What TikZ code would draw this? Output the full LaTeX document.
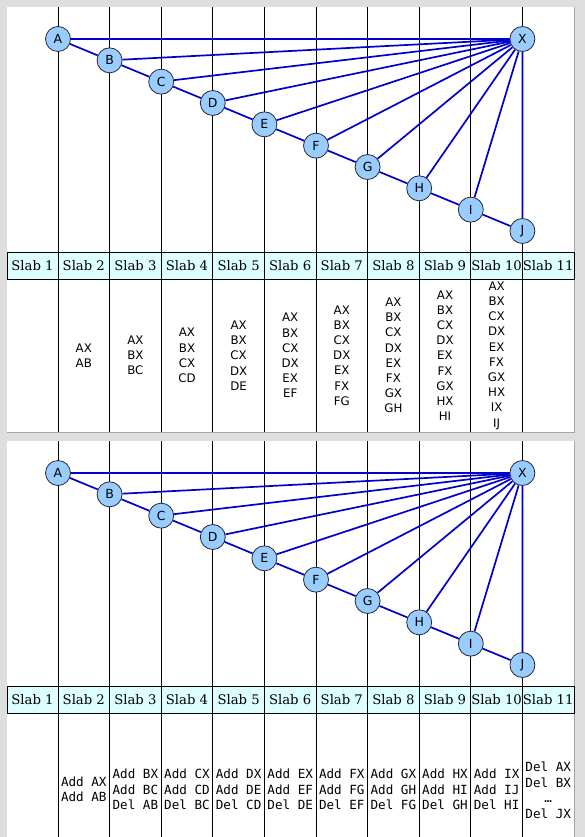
\documentclass[tikz,border=0pt]{standalone}
\usepackage{fontspec}
\newfontfamily\hdrf{DejaVu Serif}
\newfontfamily\sansf{DejaVu Sans}
\newfontfamily\monof{DejaVu Sans Mono}
\definecolor{pagegray}{RGB}{222,222,222}
\definecolor{shadowgray}{RGB}{165,165,165}
\definecolor{hdrcyan}{RGB}{221,255,255}
\definecolor{nodeblue}{RGB}{153,204,255}
\definecolor{nodeline}{RGB}{40,40,50}
\definecolor{edgeblue}{RGB}{0,0,204}
\tikzset{
 vnode/.style={circle,draw=nodeline,line width=0.8pt,fill=nodeblue,minimum size=25pt,inner sep=0pt,font=\sansf\fontsize{12.5}{12.5}\selectfont},
 blueline/.style={draw=edgeblue,line width=1.7pt},
 colline/.style={draw=black,line width=0.7pt},
 hdrtext/.style={font=\hdrf\fontsize{13.2}{13.2}\selectfont,inner sep=0pt},
 toptext/.style={font=\sansf\fontsize{11.8}{15.2}\selectfont,align=center,inner sep=0pt},
 bottext/.style={font=\monof\fontsize{12.6}{15.5}\selectfont,align=center,inner sep=0pt},
}
\newcommand\drawslabpage[2]{%
\begin{scope}[shift={(0,#2)}]
 \fill[white] (7,7) rectangle (574,432);
 \draw[shadowgray,line width=0.8pt] (574.4,7) -- (574.4,432.4) -- (7,432.4);
 \fill[hdrcyan] (7,252) rectangle (574,279);
 \foreach \i in {0,...,9} \draw[colline] ({58+51.6*\i},7) -- ({58+51.6*\i},432);
 \draw[colline] (7,252) rectangle (574,279);
 \node[hdrtext] (#1h1) at (32.5,265.5) {Slab 1};
 \foreach \k in {2,...,11} \node[hdrtext] (#1h\k) at ({32.2+51.6*(\k-1)},265.5) {Slab \k};
 \foreach \l [count=\i from 0] in {A,B,C,D,E,F,G,H,I,J}
   \node[vnode] (#1\l) at ({58+51.6*\i},{39+21.333*\i}) {\l};
 \node[vnode] (#1X) at (522.4,39) {X};
 \foreach \a/\b in {A/B,B/C,C/D,D/E,E/F,F/G,G/H,H/I,I/J}
   \draw[blueline] (#1\a) -- (#1\b);
 \foreach \a in {A,B,C,D,E,F,G,H,I,J}
   \draw[blueline] (#1X) -- (#1\a);
\end{scope}}
\newcommand\cx[1]{{32.2+51.6*(#1-1)}}
\begin{document}
\begin{tikzpicture}[x=1pt,y=-1pt]
\useasboundingbox (0,0) rectangle (585,837);
\clip (0,0) rectangle (585,837);
\fill[pagegray] (0,0) rectangle (585,837);
\drawslabpage{p}{0}
\drawslabpage{q}{434}
% top page contents
\node[toptext] (t2) at (\cx{2},355.5) {AX\\AB};
\node[toptext] (t3) at (\cx{3},355.5) {AX\\BX\\BC};
\node[toptext] (t4) at (\cx{4},355.5) {AX\\BX\\CX\\CD};
\node[toptext] (t5) at (\cx{5},355.5) {AX\\BX\\CX\\DX\\DE};
\node[toptext] (t6) at (\cx{6},355.5) {AX\\BX\\CX\\DX\\EX\\EF};
\node[toptext] (t7) at (\cx{7},355.5) {AX\\BX\\CX\\DX\\EX\\FX\\FG};
\node[toptext] (t8) at (\cx{8},355.5) {AX\\BX\\CX\\DX\\EX\\FX\\GX\\GH};
\node[toptext] (t9) at (\cx{9},355.5) {AX\\BX\\CX\\DX\\EX\\FX\\GX\\HX\\HI};
\node[toptext] (t10) at (\cx{10},355.5) {AX\\BX\\CX\\DX\\EX\\FX\\GX\\HX\\IX\\IJ};
% bottom page contents
\node[bottext] (b2) at (\cx{2},789.5) {Add AX\\Add AB};
\node[bottext] (b3) at (\cx{3},789.5) {Add BX\\Add BC\\Del AB};
\node[bottext] (b4) at (\cx{4},789.5) {Add CX\\Add CD\\Del BC};
\node[bottext] (b5) at (\cx{5},789.5) {Add DX\\Add DE\\Del CD};
\node[bottext] (b6) at (\cx{6},789.5) {Add EX\\Add EF\\Del DE};
\node[bottext] (b7) at (\cx{7},789.5) {Add FX\\Add FG\\Del EF};
\node[bottext] (b8) at (\cx{8},789.5) {Add GX\\Add GH\\Del FG};
\node[bottext] (b9) at (\cx{9},789.5) {Add HX\\Add HI\\Del GH};
\node[bottext] (b10) at (\cx{10},789.5) {Add IX\\Add IJ\\Del HI};
\node[bottext] (b11) at (\cx{11},790.5) {Del AX\\Del BX\\…\\Del JX};
\end{tikzpicture}
\end{document}
